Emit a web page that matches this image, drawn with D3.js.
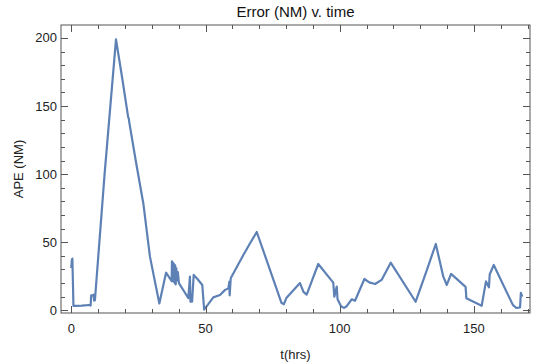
<!DOCTYPE html>
<html>
<head>
<meta charset="utf-8">
<script src="https://cdn.jsdelivr.net/npm/d3@7"></script>
<style>
  html, body { margin: 0; padding: 0; background: #fff; }
  svg { display: block; font-family: "Liberation Sans", Arial, sans-serif; }
</style>
</head>
<body>
<svg id="chart" width="533" height="364"></svg>
<script>
// ---- data ----
const title = "Error (NM) v. time";
const xLabel = "t(hrs)";
const yLabel = "APE (NM)";
const hours = [0, 0.2, 0.4, 0.8, 2, 4, 6, 7, 7.2, 7.4, 8, 8.3, 8.5, 8.8, 12.4, 16.65, 19, 21.2, 21.4, 21.6, 24, 26.6, 26.8, 29.3, 32.8, 35.3, 37.4, 37.5, 37.7, 37.9, 38.1, 38.3, 38.5, 38.7, 38.9, 39.1, 39.4, 39.7, 40.1, 42, 43.6, 44.2, 44.4, 45, 45.6, 47, 48.8, 49.5, 52.9, 55.4, 57.3, 58.5, 58.9, 59.0, 59.4, 64.1, 66.6, 69.1, 78.3, 79.2, 80.2, 85.2, 86.5, 87.7, 92, 97.6, 98, 98.9, 99.2, 100.5, 101.6, 102.6, 104.5, 105.7, 109.2, 111, 113.2, 115.6, 119, 128.3, 132.4, 135.8, 138.6, 139.9, 141.5, 146.9, 147.2, 152.9, 154.5, 155.6, 155.9, 157.4, 164.5, 165.8, 167.2, 167.5, 168];
const ape = [31, 37, 38, 3.2, 3.3, 3.5, 3.8, 4, 3.5, 11, 11, 11.5, 7, 7.5, 100, 199, 170, 141.7, 141, 138, 110, 81, 79, 39.4, 5, 27.6, 21.5, 36, 23, 35, 21, 34, 20, 33, 19, 31, 22, 28, 20, 14, 9, 24.7, 6.3, 6.3, 26, 23, 18.6, 0.5, 9.5, 11.2, 15, 16.1, 21, 11, 23.5, 40.6, 49.2, 57.5, 5.5, 4.5, 9.3, 20, 13.5, 11.5, 34, 20.3, 10, 17.4, 8.1, 3, 1.8, 3, 8.1, 7, 23, 20.5, 19.3, 22.3, 35, 6.3, 29.1, 48.7, 24.7, 18.6, 26.7, 17.2, 8.8, 3.3, 21.2, 16.9, 26.5, 33.3, 4, 1.7, 2.2, 12.8, 10];
const xTicks = [0, 50, 100, 150];
const yTicks = [0, 50, 100, 150, 200];
const xMinorTicks = d3.range(0, 171, 10);
const yMinorTicks = d3.range(0, 210, 10);

// ---- layout ----
const W = 533, H = 364;
const m = { left: 61, right: 3, top: 25, bottom: 51 };
const svg = d3.select("#chart");
const x = d3.scaleLinear().domain([-3.84, 170.9]).range([m.left, W - m.right]);
const y = d3.scaleLinear().domain([-1.98, 209.5]).range([H - m.bottom, m.top]);

const frameColor = "#555";
const majorLen = 7, minorLen = 4;

// line
const pts = hours.map((t, i) => [t, ape[i]]);
svg.append("path")
  .datum(pts)
  .attr("fill", "none")
  .attr("stroke", "#5E81B5")
  .attr("stroke-width", 2.2)
  .attr("stroke-linejoin", "round")
  .attr("d", d3.line().x(d => x(d[0])).y(d => y(d[1])));

// frame
const x0 = m.left, x1 = W - m.right, y0 = H - m.bottom, y1 = m.top;
svg.append("rect")
  .attr("x", x0).attr("y", y1).attr("width", x1 - x0).attr("height", y0 - y1)
  .attr("fill", "none").attr("stroke", frameColor).attr("stroke-width", 1);

const ticksG = svg.append("g").attr("stroke", frameColor).attr("stroke-width", 1);
xMinorTicks.forEach(v => {
  const len = xTicks.includes(v) ? majorLen : minorLen;
  const px = Math.round(x(v)) + 0.5;
  ticksG.append("line").attr("x1", px).attr("x2", px).attr("y1", y0).attr("y2", y0 - len);
  ticksG.append("line").attr("x1", px).attr("x2", px).attr("y1", y1).attr("y2", y1 + len);
});
yMinorTicks.forEach(v => {
  const len = yTicks.includes(v) ? majorLen : minorLen;
  const py = Math.round(y(v)) + 0.5;
  ticksG.append("line").attr("y1", py).attr("y2", py).attr("x1", x0).attr("x2", x0 + len);
  ticksG.append("line").attr("y1", py).attr("y2", py).attr("x1", x1).attr("x2", x1 - len);
});

// tick labels
svg.append("g").selectAll("text").data(xTicks).join("text")
  .attr("x", d => x(d)).attr("y", 333)
  .attr("text-anchor", "middle").attr("font-size", 13).attr("fill", "#222")
  .text(d => d);
svg.append("g").selectAll("text").data(yTicks).join("text")
  .attr("x", 57).attr("y", d => y(d)).attr("dy", "0.35em")
  .attr("text-anchor", "end").attr("font-size", 13).attr("fill", "#222")
  .text(d => d);

// titles
svg.append("text").attr("x", (x0 + x1) / 2).attr("y", 17)
  .attr("text-anchor", "middle").attr("font-size", 15).attr("fill", "#111").text(title);
svg.append("text").attr("x", (x0 + x1) / 2).attr("y", 359)
  .attr("text-anchor", "middle").attr("font-size", 13).attr("fill", "#222").text(xLabel);
svg.append("text").attr("transform", `translate(23, ${(y0 + y1) / 2}) rotate(-90)`)
  .attr("text-anchor", "middle").attr("font-size", 13).attr("fill", "#222").text(yLabel);
</script>
</body>
</html>
